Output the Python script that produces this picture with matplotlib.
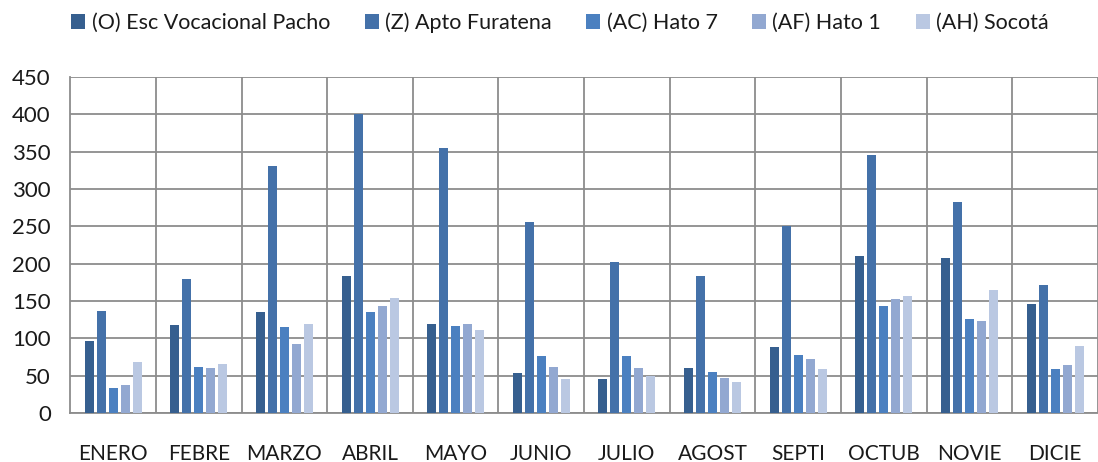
import numpy as np
import matplotlib
matplotlib.use("Agg")
import matplotlib.pyplot as plt

meses = ["ENERO", "FEBRE", "MARZO", "ABRIL", "MAYO", "JUNIO",
         "JULIO", "AGOST", "SEPTI", "OCTUB", "NOVIE", "DICIE"]

# valores
esc_vocacional = [97, 118, 135, 184, 119, 54, 46, 60, 88, 211, 208, 146]
apto_furatena = [137, 180, 331, 401, 355, 256, 202, 184, 251, 346, 283, 171]
hato_7 = [33, 62, 115, 135, 116, 76, 76, 55, 78, 143, 126, 59]
hato_1 = [37, 60, 93, 143, 119, 62, 60, 47, 73, 153, 123, 65]
socota = [68, 66, 119, 154, 111, 45, 49, 41, 59, 157, 165, 90]

series = [
    ("(O) Esc Vocacional Pacho", esc_vocacional, "#365f8f"),
    ("(Z) Apto Furatena", apto_furatena, "#4471a9"),
    ("(AC) Hato 7", hato_7, "#4b80c0"),
    ("(AF) Hato 1", hato_1, "#92a8d1"),
    ("(AH) Socotá", socota, "#bac8e2"),
]

plt.rcParams['font.family'] = ['Lato', 'DejaVu Sans']

fig = plt.figure(figsize=(10.98, 4.62), dpi=100)
ax = fig.add_axes([0.064, 0.106, 0.936, 0.727])

x = np.arange(len(meses))
ancho = 0.105
paso = 0.14
for i, (nombre, vals, color) in enumerate(series):
    ax.bar(x + (i - 2) * paso, vals, width=ancho, color=color, label=nombre, zorder=3)

ax.set_xlim(-0.5, 11.41)
ax.set_ylim(0, 450)
ax.set_yticks(range(0, 451, 50))
ax.set_xticks(x)
ax.set_xticklabels(meses)
ax.set_xticks(x + 0.5, minor=True)
ax.tick_params(axis='both', which='both', length=0, colors='#1a1a1a')
ax.tick_params(axis='x', labelsize=15, pad=22)
ax.tick_params(axis='y', labelsize=16, pad=14)

ax.grid(axis='y', which='major', color='#8c8c8c', linewidth=1.3, zorder=0)
ax.grid(axis='x', which='minor', color='#8c8c8c', linewidth=1.3, zorder=0)
for lado in ['top', 'right']:
    ax.spines[lado].set_visible(False)
for lado in ['left', 'bottom']:
    ax.spines[lado].set_color('#8c8c8c')
    ax.spines[lado].set_linewidth(1.3)

leg = fig.legend(loc='upper center', bbox_to_anchor=(0.51, 1.015), ncol=5, frameon=False,
                 fontsize=15.5, handlelength=0.65, handleheight=0.65, handletextpad=0.3,
                 columnspacing=1.6)
for t in leg.get_texts():
    t.set_color('#1a1a1a')

fig.savefig("out.png", dpi=100)
